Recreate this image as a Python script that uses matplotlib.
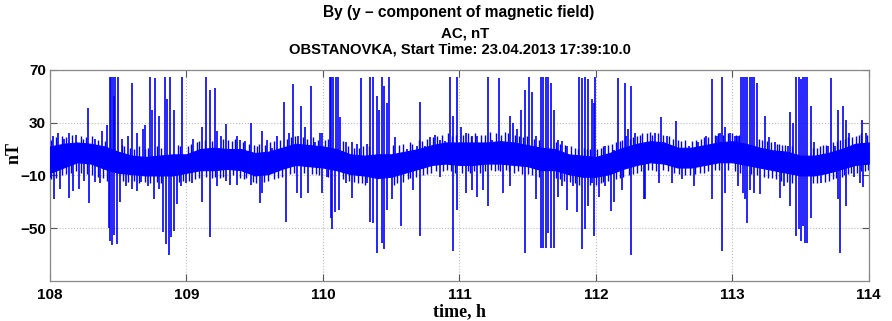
import numpy as np
import matplotlib
matplotlib.use('Agg')
import matplotlib.pyplot as plt

# slow background band, nT
band_t = [108.0, 108.1, 108.2, 108.3, 108.4, 108.5, 108.6, 108.7, 108.8, 108.9,
          109.0, 109.1, 109.2, 109.3, 109.4, 109.5, 109.6, 109.7, 109.8, 109.9,
          110.0, 110.1, 110.2, 110.3, 110.4, 110.5, 110.6, 110.7, 110.8, 110.9,
          111.0, 111.1, 111.2, 111.3, 111.4, 111.5, 111.6, 111.7, 111.8, 111.9,
          112.0, 112.1, 112.2, 112.3, 112.4, 112.5, 112.6, 112.7, 112.8, 112.9,
          113.0, 113.1, 113.2, 113.3, 113.4, 113.5, 113.6, 113.7, 113.8, 113.9, 114.0]
band_lo = [-8, -4, 0, -1, -5, -8, -9, -10, -10, -10,
           -8, -6, -6, -5, -6, -10, -9, -5, -2, -3,
           -4, -6, -9, -10, -12, -11, -8, -5, -2, -1,
           -2, -2, -1, -1, -2, -3, -6, -6, -9, -11,
           -11, -9, -5, -2, 0, -1, -4, -4, -2, 0,
           0, -2, -4, -6, -8, -10, -10, -8, -5, -2, -1]
band_hi = [12, 14, 15, 14, 12, 8, 5, 4, 5, 6,
           6, 10, 11, 10, 10, 7, 8, 11, 14, 13,
           12, 10, 6, 5, 6, 6, 8, 10, 13, 15,
           15, 15, 15, 16, 15, 13, 11, 10, 6, 5,
           4, 7, 11, 14, 16, 15, 11, 11, 13, 15,
           16, 14, 11, 9, 8, 5, 5, 7, 10, 14, 15]

# small excursions just outside the band
fuzz_up_t = [108.005, 108.045, 108.085, 108.115, 108.16, 108.225, 108.245, 108.265, 108.305, 108.355,
             108.405, 108.525, 108.545, 108.585, 108.615, 108.655, 108.695, 108.715, 108.785, 108.815,
             108.935, 108.955,
             109.015, 109.035, 109.075, 109.095, 109.135, 109.185, 109.265, 109.305, 109.335, 109.355,
             109.415, 109.455, 109.495, 109.515, 109.535, 109.575, 109.615, 109.645, 109.685, 109.735,
             109.765, 109.795, 109.855, 109.885, 109.925, 109.965,
             110.015, 110.035, 110.145, 110.185, 110.225, 110.265, 110.295, 110.335, 110.515, 110.555,
             110.585, 110.635, 110.655, 110.705, 110.725, 110.765, 110.805, 110.835, 110.875, 110.915,
             110.945, 110.975,
             111.025, 111.065, 111.085, 111.115, 111.155, 111.185, 111.225, 111.265, 111.305, 111.335,
             111.355, 111.405, 111.435, 111.465, 111.495, 111.545, 111.58, 111.705, 111.735, 111.775,
             111.815, 111.845, 111.87, 111.91, 111.935, 111.96,
             112.01, 112.04, 112.055, 112.09, 112.115, 112.145, 112.175, 112.195, 112.25, 112.27,
             112.30, 112.32, 112.34, 112.375, 112.395, 112.415, 112.455, 112.495, 112.535, 112.565,
             112.605, 112.625, 112.655, 112.705, 112.735, 112.77, 112.79, 112.825, 112.87, 112.895,
             112.935, 112.965,
             113.0, 113.025, 113.05, 113.195, 113.215, 113.255, 113.285, 113.325, 113.345, 113.365,
             113.385, 113.44, 113.59, 113.62, 113.64, 113.665, 113.685, 113.74, 113.765, 113.79,
             113.825, 113.85, 113.875, 113.905, 113.925, 113.945, 113.99]
fuzz_up_v = [17, 19, 20, 19, 21, 20, 18, 19, 20, 17,
             16, 13, 12, 11, 10, 12, 10, 11, 12, 11,
             13, 12,
             12, 14, 15, 16, 17, 16, 18, 17, 16, 18,
             15, 14, 13, 12, 14, 13, 15, 16, 17, 18,
             19, 20, 19, 18, 19, 17,
             17, 18, 16, 12, 11, 11, 12, 12, 13, 13,
             14, 15, 14, 17, 16, 18, 19, 20, 21, 22,
             20, 21,
             21, 22, 20, 22, 21, 21, 23, 22, 21, 23,
             22, 21, 20, 19, 20, 18, 17, 15, 14, 13,
             12, 11, 10, 11, 10, 10,
             10, 11, 12, 13, 14, 15, 16, 17, 18, 19,
             20, 21, 22, 22, 23, 21, 22, 21, 20, 18,
             17, 16, 17, 16, 17, 18, 19, 19, 21, 22,
             21, 22,
             22, 21, 21, 18, 17, 16, 15, 14, 14, 13,
             13, 12, 11, 11, 12, 13, 13, 15, 16, 17,
             18, 19, 19, 20, 21, 22, 21]
fuzz_dn_t = [108.005, 108.045, 108.09, 108.12, 108.155, 108.19, 108.23, 108.27, 108.31, 108.35,
             108.39, 108.415, 108.535, 108.575, 108.615, 108.655, 108.695, 108.735, 108.785, 108.815,
             108.945, 108.975,
             109.02, 109.06, 109.09, 109.14, 109.19, 109.21, 109.245, 109.27, 109.34, 109.39,
             109.42, 109.44, 109.49, 109.51, 109.57, 109.60, 109.64, 109.67, 109.70, 109.76,
             109.79, 109.86, 109.92, 109.95, 109.97,
             110.04, 110.15, 110.19, 110.23, 110.26, 110.29, 110.31, 110.52, 110.54, 110.59,
             110.62, 110.64, 110.68, 110.73, 110.76, 110.79, 110.83, 110.88, 110.91, 110.94,
             110.97,
             111.02, 111.06, 111.08, 111.11, 111.15, 111.19, 111.23, 111.26, 111.28, 111.30,
             111.34, 111.36, 111.40, 111.43, 111.46, 111.50, 111.53, 111.58, 111.71, 111.74,
             111.77, 111.81, 111.85, 111.88, 111.96,
             112.00, 112.035, 112.055, 112.09, 112.15, 112.175, 112.20, 112.245, 112.27, 112.30,
             112.33, 112.38, 112.41, 112.44, 112.49, 112.53, 112.575, 112.61, 112.65, 112.69,
             112.73, 112.76, 112.79, 112.82, 112.87, 112.90, 112.965,
             113.02, 113.055, 113.14, 113.18, 113.23, 113.26, 113.29, 113.32, 113.36, 113.40,
             113.44, 113.59, 113.62, 113.68, 113.71, 113.74, 113.76, 113.80, 113.82, 113.85,
             113.87, 113.91, 113.94, 113.97, 113.995]
fuzz_dn_v = [-13, -12, -10, -9, -8, -7, -8, -9, -10, -11,
             -12, -14, -14, -15, -14, -16, -15, -16, -15, -16,
             -15, -14,
             -14, -13, -12, -11, -12, -11, -12, -11, -10, -12,
             -13, -12, -15, -16, -15, -14, -13, -12, -11, -9,
             -8, -8, -9, -9, -10,
             -11, -13, -14, -15, -16, -16, -17, -17, -16, -15,
             -13, -12, -11, -10, -9, -8, -7, -7, -6, -7,
             -8,
             -8, -7, -8, -7, -8, -7, -6, -7, -6, -7,
             -6, -7, -8, -7, -9, -9, -10, -11, -12, -13,
             -14, -15, -16, -17, -17,
             -17, -16, -15, -14, -13, -12, -11, -10, -9, -8,
             -7, -6, -6, -7, -6, -7, -8, -9, -10, -10,
             -9, -8, -8, -7, -6, -6, -6,
             -7, -8, -9, -10, -11, -12, -12, -13, -14, -15,
             -16, -16, -16, -15, -14, -13, -12, -11, -10, -9,
             -8, -8, -7, -7, -6]

# positive spikes
up_t = [108.02, 108.06, 108.10, 108.14, 108.19, 108.28, 108.33, 108.38, 108.42, 108.44,
        108.45, 108.46, 108.47, 108.48, 108.50, 108.53, 108.57, 108.60, 108.64, 108.68,
        108.70, 108.73, 108.75, 108.77, 108.80, 108.84, 108.86, 108.88, 108.91, 108.97,
        109.05, 109.116, 109.145, 109.17, 109.208, 109.225, 109.25, 109.29, 109.37, 109.39,
        109.43, 109.47, 109.555, 109.587, 109.63, 109.66, 109.715, 109.75, 109.78, 109.82,
        109.84, 109.87, 109.91, 109.94, 109.98,
        109.99, 110.05, 110.062, 110.075, 110.095, 110.11, 110.125, 110.17, 110.21, 110.247,
        110.276, 110.32, 110.344, 110.37, 110.393, 110.41, 110.43, 110.45, 110.466, 110.486,
        110.53, 110.613, 110.686, 110.71, 110.747, 110.784, 110.82, 110.857, 110.894, 110.93,
        110.955,
        110.986, 111.01, 111.047, 111.096, 111.13, 111.208, 111.24, 111.29, 111.37, 111.39,
        111.42, 111.45, 111.48, 111.51, 111.53, 111.56, 111.597, 111.616, 111.633, 111.653,
        111.67, 111.69, 111.72, 111.755, 111.79, 111.878, 111.897, 111.92, 111.946, 111.975,
        111.983, 111.995, 112.07, 112.13, 112.16, 112.21, 112.22, 112.235, 112.26, 112.284,
        112.435, 112.477, 112.52, 112.586, 112.68, 112.75, 112.806, 112.85, 112.887, 112.91,
        112.923, 112.948, 112.985,
        113.016, 113.04, 113.06, 113.077, 113.094, 113.109, 113.126, 113.143, 113.162, 113.182,
        113.24, 113.27, 113.31, 113.407, 113.424, 113.446, 113.47, 113.485, 113.50, 113.516,
        113.53, 113.55, 113.573, 113.60, 113.70, 113.724, 113.75, 113.773, 113.81, 113.834,
        113.858, 113.89, 113.95, 113.976]
up_v = [20, 22, 18, 22, 21, 41, 18, 24, 28, 65,
        65, 65, 50, 65, 65, 18, 20, 60, 22, 25,
        28, 65, 40, 64, 35, 65, 48, 65, 40, 65,
        18, 27, 65, 55, 56, 24, 20, 29, 20, 17,
        16, 30, 24, 17, 11, 20, 46, 22, 59, 20,
        43, 27, 58, 15, 22,
        22, 65, 65, 65, 65, 65, 34, 15, 15, 14,
        64, 14, 65, 65, 50, 40, 65, 58, 45, 65,
        19, 10, 12, 46, 12, 19, 21, 17, 16, 65,
        35,
        65, 27, 22, 20, 20, 65, 17, 64, 35, 30,
        25, 40, 55, 65, 53, 20, 65, 65, 65, 65,
        60, 40, 17, 16, 12, 65, 64, 65, 63, 48,
        45, 65, 12, 9, 64, 60, 20, 25, 58, 22,
        22, 34, 20, 31, 12, 15, 20, 63, 20, 22,
        65, 27, 22,
        20, 20, 65, 65, 65, 65, 65, 65, 65, 60,
        35, 19, 15, 12, 38, 30, 65, 65, 63, 65,
        65, 65, 43, 15, 12, 64, 12, 40, 43, 32,
        22, 12, 32, 22]

# negative spikes
dn_t = [108.01, 108.03, 108.07, 108.137, 108.17, 108.21, 108.25, 108.283, 108.33, 108.37,
        108.43, 108.44, 108.455, 108.47, 108.49, 108.51, 108.56, 108.60, 108.64, 108.67,
        108.72, 108.76, 108.80, 108.83, 108.85, 108.87, 108.89, 108.91, 108.93, 108.96,
        109.0, 109.04, 109.116, 109.17, 109.225, 109.29, 109.32, 109.37, 109.47, 109.54,
        109.555, 109.73, 109.81, 109.84, 109.89,
        109.99, 110.027, 110.06, 110.07, 110.09, 110.12, 110.17, 110.21, 110.32, 110.344,
        110.37, 110.393, 110.43, 110.45, 110.466, 110.503, 110.57, 110.66, 110.71, 110.857,
        110.955,
        110.986, 111.047, 111.096, 111.13, 111.17, 111.208, 111.316, 111.37, 111.48, 111.56,
        111.597, 111.616, 111.633, 111.653, 111.67, 111.69, 111.72, 111.755, 111.79, 111.83,
        111.865, 111.897, 111.92, 111.946, 111.975,
        111.983, 112.02, 112.07, 112.11, 112.13, 112.19, 112.26, 112.35, 112.36, 112.46,
        112.557, 112.63, 112.716, 112.85, 112.923, 112.948,
        113.04, 113.077, 113.094, 113.109, 113.126, 113.162, 113.20, 113.346, 113.38, 113.424,
        113.47, 113.485, 113.50, 113.516, 113.53, 113.55, 113.573, 113.65, 113.773, 113.79,
        113.834, 113.89, 113.932, 113.956]
dn_v = [-12, -28, -20, -27, -22, -20, -14, -31, -15, -16,
        -50, -60, -63, -55, -62, -30, -18, -20, -22, -15,
        -18, -28, -20, -53, -62, -70, -57, -52, -32, -18,
        -16, -16, -30, -57, -18, -14, -17, -17, -17, -31,
        -23, -45, -23, -27, -23,
        -23, -11, -42, -51, -38, -36, -16, -27, -16, -45,
        -46, -69, -61, -66, -36, -28, -48, -21, -56, -11,
        -67,
        -36, -23, -21, -26, -21, -33, -23, -18, -69, -28,
        -65, -65, -65, -54, -65, -65, -26, -18, -36, -18,
        -38, -66, -51, -33, -16,
        -56, -26, -18, -37, -30, -21, -70, -28, -28, -16,
        -16, -13, -18, -28, -67, -23,
        -18, -23, -28, -46, -21, -23, -24, -27, -18, -33,
        -56, -51, -60, -48, -61, -61, -42, -16, -28, -69,
        -33, -11, -16, -19]

blue = (0, 0, 1)

fig = plt.figure(figsize=(8.92, 3.21), dpi=100)
ax = fig.add_axes([0.056, 0.125, 0.918, 0.657])

ax.fill_between(band_t, band_lo, band_hi, color=blue, lw=0.8, zorder=3)
ax.vlines(fuzz_up_t, 0, fuzz_up_v, color=blue, lw=1.0, zorder=3)
ax.vlines(fuzz_dn_t, fuzz_dn_v, 0, color=blue, lw=1.0, zorder=3)
ax.vlines(up_t, 0, up_v, color=blue, lw=1.2, zorder=3)
ax.vlines(dn_t, dn_v, 0, color=blue, lw=1.2, zorder=3)

ax.set_xlim(108, 114)
ax.set_ylim(-90, 70)
ax.set_xticks(range(108, 115))
ax.set_yticks([-50, -10, 30, 70])
ax.grid(True, ls=':', color='#bbbbbb', lw=0.8, zorder=0)
ax.tick_params(direction='in', length=5, top=True, right=True, color='#555555',
               labelsize=11)
ax.tick_params(axis='y', pad=3)
ax.tick_params(axis='x', pad=5)
for lab in ax.get_xticklabels() + ax.get_yticklabels():
    lab.set_family('Liberation Sans')
    lab.set_fontweight('bold')
for sp in ax.spines.values():
    sp.set_color('#888888')
    sp.set_linewidth(0.9)

ax.set_xlabel('time, h', family='Liberation Serif', fontweight='bold', fontsize=13, labelpad=1)
ax.set_ylabel('nT', family='Liberation Serif', fontweight='bold', fontsize=13)
ax.yaxis.set_label_coords(-0.034, 0.607)

tfam = 'Liberation Sans'
fig.text(0.5146, 0.948, 'By (y \u2013 component of magnetic field)', ha='center', va='baseline',
         family=tfam, fontweight='bold', fontsize=11.2)
fig.text(0.521, 0.884, 'AC, nT', ha='center', va='baseline', family=tfam,
         fontweight='bold', fontsize=10.8)
fig.text(0.5157, 0.834, 'OBSTANOVKA, Start Time: 23.04.2013 17:39:10.0', ha='center',
         va='baseline', family=tfam, fontweight='bold', fontsize=10.6)

fig.savefig('out.png', dpi=100)
